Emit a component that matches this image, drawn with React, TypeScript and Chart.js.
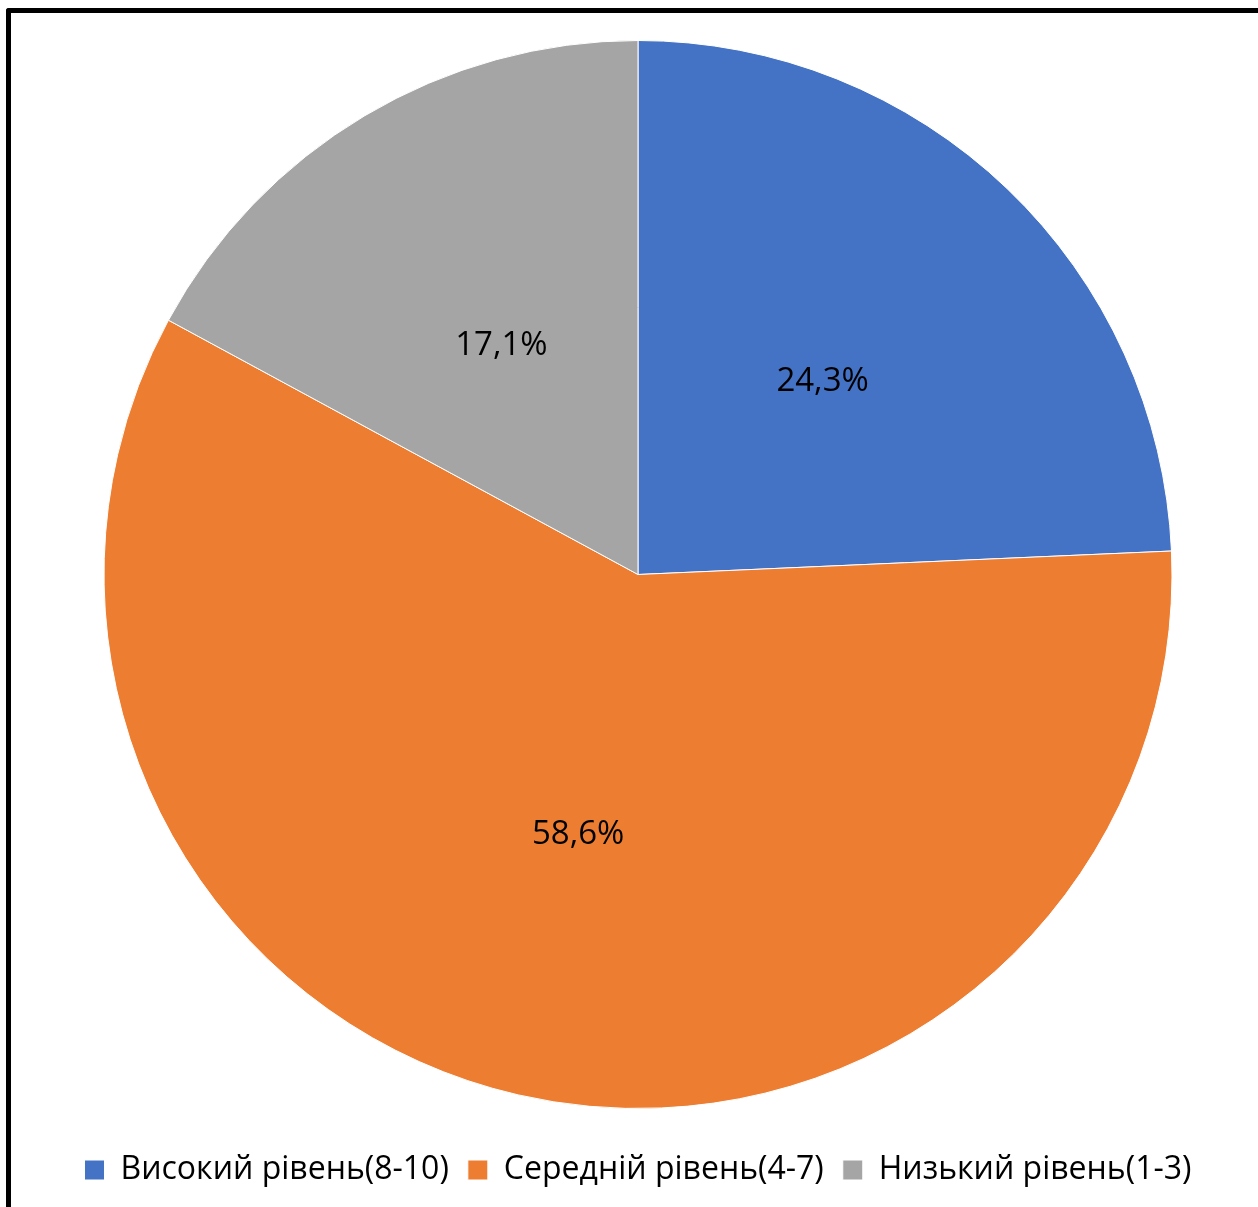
import React, { useEffect, useRef } from "react";
import { Chart, registerables } from "chart.js";

Chart.register(...registerables);

const categories = ["Високий рівень(8-10)", "Середній рівень(4-7)", "Низький рівень(1-3)"];
const values = [24.3, 58.6, 17.1];
const colors = ["#4472C4", "#ED7D31", "#A5A5A5"];

const FONT = "'Open Sans', 'Noto Sans', sans-serif";
const LABEL_SIZE = 33;
const LEGEND_SIZE = 32;

const labelPlugin = {
  id: "sliceLabels",
  afterDatasetsDraw(chart: any) {
    const ctx = chart.ctx;
    const meta = chart.getDatasetMeta(0);
    ctx.save();
    ctx.font = `${LABEL_SIZE}px ${FONT}`;
    ctx.fillStyle = "#000";
    ctx.textAlign = "center";
    ctx.textBaseline = "middle";
    meta.data.forEach((arc: any, i: number) => {
      const p = arc.tooltipPosition();
      const txt = values[i].toFixed(1).replace(".", ",") + "%";
      ctx.fillText(txt, p.x, p.y);
    });
    ctx.restore();
  },
};

export default function App() {
  const ref = useRef<HTMLCanvasElement | null>(null);
  useEffect(() => {
    if (!ref.current) return;
    const chart = new Chart(ref.current, {
      type: "pie",
      data: {
        labels: categories,
        datasets: [
          {
            data: values,
            backgroundColor: colors,
            borderColor: "#ffffff",
            borderWidth: 1,
            radius: 534,
          },
        ],
      },
      options: {
        animation: false,
        responsive: false,
        maintainAspectRatio: false,
        layout: { padding: { left: 18, right: 0, top: 14, bottom: 11 } },
        plugins: {
          tooltip: { enabled: false },
          legend: {
            position: "bottom",
            labels: {
              boxWidth: 20,
              boxHeight: 20,
              padding: 19,
              color: "#000",
              font: { family: FONT, size: LEGEND_SIZE },
            },
          },
        },
      },
      plugins: [labelPlugin],
    });
    return () => chart.destroy();
  }, []);

  return (
    <div style={{ position: "absolute", left: 0, top: 0, width: 1258, height: 1207, overflow: "hidden", background: "#fff" }}>
      <div
        style={{
          position: "absolute",
          left: 6,
          top: 8,
          width: 1300,
          height: 1300,
          borderTop: "5px solid #000",
          borderLeft: "5px solid #000",
          borderTopLeftRadius: 3,
          boxSizing: "border-box",
        }}
      />
      <canvas ref={ref} width={1258} height={1207} style={{ position: "absolute", left: 0, top: 0, width: 1258, height: 1207 }} />
    </div>
  );
}
